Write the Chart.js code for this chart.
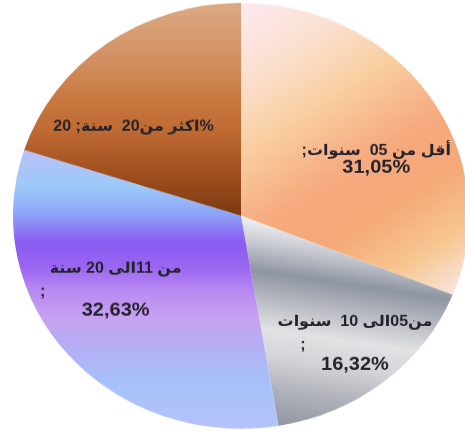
<!DOCTYPE html>
<html>
<head>
<meta charset="utf-8">
<script src="https://cdn.jsdelivr.net/npm/chart.js@4/dist/chart.umd.min.js"></script>
<style>
  html, body { margin: 0; padding: 0; background: #fff; overflow: hidden; }
  #wrap { width: 482px; height: 462px; transform: scaleY(0.934); transform-origin: 0 0; }
  #pie { display: block; }
</style>
</head>
<body>
<div id="wrap"><canvas id="pie" width="482" height="462" style="width:482px;height:462px"></canvas></div>
<script>
'use strict';

// Slice data (clockwise from the top)
const categories = ['أقل من 05  سنوات', 'من05الى 10  سنوات', 'من 11الى 20 سنة', 'اكثر من20  سنة'];
const shares = [31.05, 16.32, 32.63, 20];

const fmt = v => v.toFixed(2).replace('.', ',') + '%';

// Label text as it appears on each slice
const labelLines = [
  [categories[0] + ';', fmt(shares[0])],
  [categories[1], ';', fmt(shares[1])],
  [categories[2], ';', fmt(shares[2])],
  ['%' + categories[3] + '; ' + shares[3]]
];

// Label placement: turn (deg) from slice middle, distance as share of radius,
// line offsets and the x shift of a lone ";" line
const labelPlace = [
  { turn: 10, dist: 0.65, dy: [-8.6, 8.6] },
  { turn: -1, dist: 0.78, dy: [-22.5, 2, 22.5], semiX: -52 },
  { turn: 8.5, dist: 0.65, dy: [-22.5, 3, 22.5], semiX: -73 },
  { turn: -12.4, dist: 0.63, dy: [0] }
];

const total = shares.reduce((a, b) => a + b, 0);
const firstEnd = shares[0] / total * Math.PI * 2;

// Gradient fills, positions as fractions of the radius from the centre
const fills = [
  { from: [0, -1], to: [Math.sin(firstEnd), -Math.cos(firstEnd)],
    stops: [[0, '#fdeaf2'], [0.2, '#fbdfcc'], [0.35, '#f9cfa2'], [0.55, '#f6aa7e'], [0.7, '#f5a878'], [0.86, '#f7c691'], [1, '#f9e6de']] },
  { from: [0, 0], to: [-0.16, 1],
    stops: [[0, '#f2f2f4'], [0.12, '#c4c7ce'], [0.24, '#8f95a3'], [0.36, '#b5b8c0'], [0.5, '#e2e2e4'], [0.62, '#d4d5d8'], [0.78, '#aeb1b9'], [1, '#868b98']] },
  { from: [0, -0.29], to: [0, 1],
    stops: [[0, '#b8c0f8'], [0.12, '#9ccaf9'], [0.22, '#8ea4f8'], [0.32, '#8a5cf3'], [0.41, '#9a66f1'], [0.5, '#b98af1'], [0.6, '#c7a2f1'], [0.72, '#b2b2f6'], [0.84, '#a6c2fa'], [1, '#b6c2f8']] },
  { from: [0, -1], to: [0, 0],
    stops: [[0, '#dcaa82'], [0.25, '#d39266'], [0.45, '#c9793f'], [0.6, '#bf6a33'], [0.8, '#a04f1f'], [1, '#7c3a10']] }
];

function sliceFill(c) {
  const chart = c.chart;
  const area = chart.chartArea;
  if (!area) return '#cccccc';
  const cx = (area.left + area.right) / 2;
  const cy = (area.top + area.bottom) / 2;
  const R = Math.min(area.width, area.height) / 2;
  const f = fills[c.dataIndex];
  const g = chart.ctx.createLinearGradient(cx + f.from[0] * R, cy + f.from[1] * R, cx + f.to[0] * R, cy + f.to[1] * R);
  f.stops.forEach(s => g.addColorStop(s[0], s[1]));
  return g;
}

const arFont = 'bold 16px "Liberation Sans", "DejaVu Sans", sans-serif';
const numFont = 'bold 20px "Liberation Sans", "DejaVu Sans", sans-serif';

const sliceLabels = {
  id: 'sliceLabels',
  afterDatasetsDraw(chart) {
    const ctx = chart.ctx;
    const meta = chart.getDatasetMeta(0);
    ctx.save();
    ctx.fillStyle = '#24232c';
    ctx.textBaseline = 'middle';
    ctx.textAlign = 'center';
    ctx.direction = 'rtl';
    meta.data.forEach((arc, i) => {
      const p = labelPlace[i];
      const mid = (arc.startAngle + arc.endAngle) / 2 + p.turn * Math.PI / 180;
      const r = arc.outerRadius * p.dist;
      const x = arc.x + Math.cos(mid) * r;
      const y = arc.y + Math.sin(mid) * r;
      labelLines[i].forEach((line, j) => {
        ctx.font = /^[\d,]+%$/.test(line) ? numFont : arFont;
        const lx = line === ';' ? x + p.semiX : x;
        ctx.fillText(line, lx, y + p.dy[j]);
      });
    });
    ctx.restore();
  }
};

new Chart(document.getElementById('pie').getContext('2d'), {
  type: 'pie',
  data: {
    labels: categories,
    datasets: [{
      data: shares,
      backgroundColor: sliceFill,
      borderWidth: 0
    }]
  },
  options: {
    responsive: false,
    animation: false,
    devicePixelRatio: 1,
    layout: { padding: 3 },
    plugins: { legend: { display: false }, tooltip: { enabled: false } }
  },
  plugins: [sliceLabels]
});
</script>
</body>
</html>
